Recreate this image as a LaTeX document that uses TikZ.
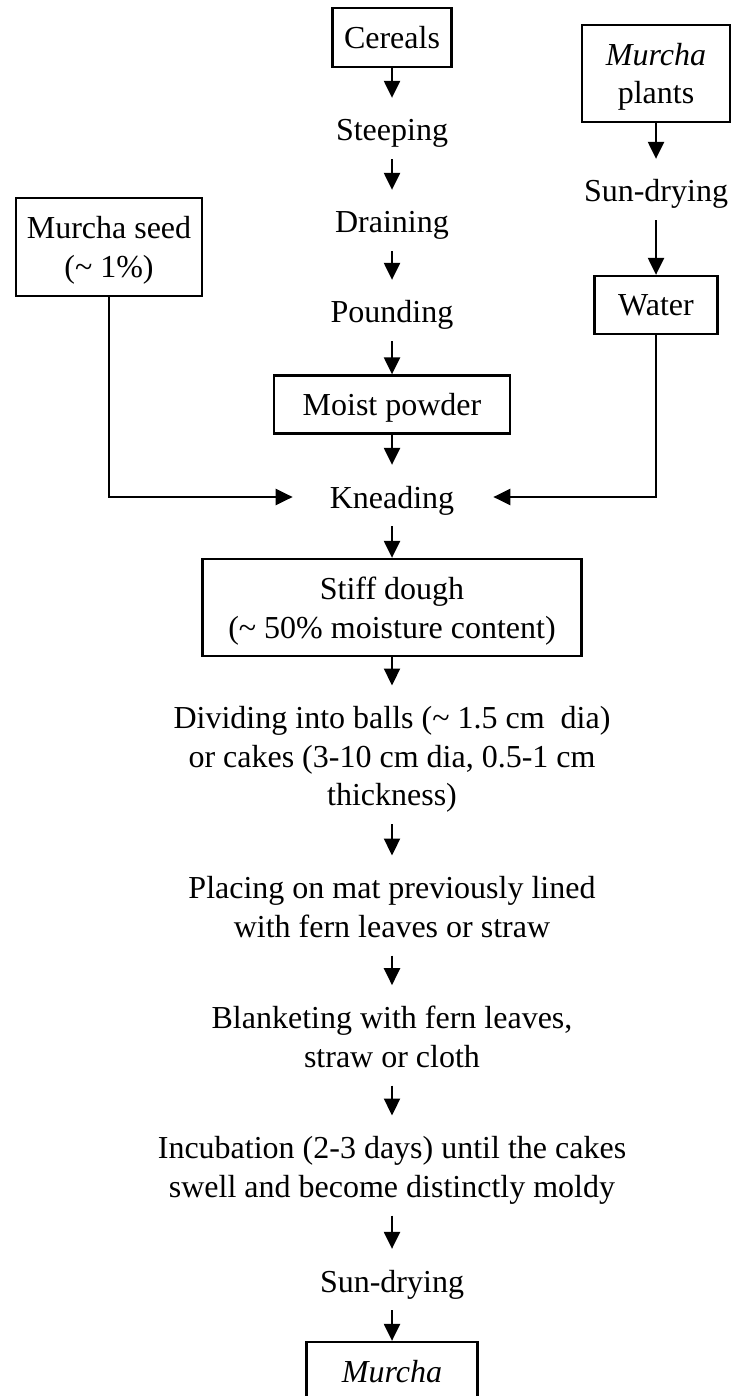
\documentclass[tikz,border=0pt]{standalone}
\usepackage{fontspec}
\setmainfont{Liberation Serif}
\usetikzlibrary{arrows.meta}
\begin{document}
\begin{tikzpicture}[x=1pt, y=-1pt, line width=2.3pt, >={Triangle[length=17pt,width=16pt]},
  every node/.style={font=\fontsize{32pt}{38.5pt}\selectfont, inner sep=0pt},
  box/.style={draw, align=center, text depth=0pt},
  lbl/.style={text height=22pt, text depth=0pt},
  para/.style={align=center, anchor=south, text depth=0pt},
  fromlbl/.style={shorten <=17pt},
  tolbl/.style={shorten >=20pt}]
  \useasboundingbox (0,0) rectangle (731,1396);
  \node[box, minimum width=119pt, minimum height=59pt] (cereals) at (392,37.5) {Cereals};
  \node[lbl] (steeping) at (392,130) {Steeping};
  \node[lbl] (draining) at (392,222) {Draining};
  \node[lbl] (pounding) at (392,312) {Pounding};
  \node[box, minimum width=236pt, minimum height=58pt] (powder) at (392,404.5) {Moist powder};
  \node[lbl] (kneading) at (392,497) {Kneading};
  \node[box, minimum width=379pt, minimum height=97pt] (dough) at (392,607.5) {Stiff dough\\(\textasciitilde{} 50\% moisture content)};
  \node[para] (dividing) at (392,807) {Dividing into balls (\textasciitilde{} 1.5 cm\ \ dia)\\or cakes (3-10 cm dia, 0.5-1 cm\\thickness)};
  \node[para] (placing) at (392,938.5) {Placing on mat previously lined\\with fern leaves or straw};
  \node[para] (blanketing) at (392,1068.5) {Blanketing with fern leaves,\\straw or cloth};
  \node[para] (incubation) at (392,1198.5) {Incubation (2-3 days) until the cakes\\swell and become distinctly moldy};
  \node[lbl] (drying) at (392,1281) {Sun-drying};
  \node[box, minimum width=171pt, minimum height=59pt] (murcha) at (392,1371.5) {\textit{Murcha}};

  \node[box, minimum width=186pt, minimum height=98pt] (seed) at (109,247) {Murcha seed\\(\textasciitilde{} 1\%)};
  \node[box, minimum width=148pt, minimum height=97pt] (plants) at (656,73.5) {\textit{Murcha}\\plants};
  \node[lbl] (plantdrying) at (656,191) {Sun-drying};
  \node[box, minimum width=123pt, minimum height=58pt] (water) at (656,305) {Water};

  \draw[->, tolbl] (cereals) -- (steeping);
  \draw[->, fromlbl, tolbl] (steeping) -- (draining);
  \draw[->, fromlbl, tolbl] (draining) -- (pounding);
  \draw[->, fromlbl] (pounding) -- (powder);
  \draw[->, tolbl] (powder) -- (kneading);
  \draw[->, fromlbl] (kneading) -- (dough);
  \draw[->, tolbl] (dough) -- (dividing);
  \draw[->, fromlbl, tolbl] (dividing) -- (placing);
  \draw[->, fromlbl, tolbl] (placing) -- (blanketing);
  \draw[->, fromlbl, tolbl] (blanketing) -- (incubation);
  \draw[->, fromlbl, tolbl] (incubation) -- (drying);
  \draw[->, fromlbl] (drying) -- (murcha);

  \draw[->, tolbl] (plants) -- (plantdrying);
  \draw[->, fromlbl] (plantdrying) -- (water);
  \draw[->, shorten >=36pt] (seed) |- (kneading);
  \draw[->, shorten >=38pt] (water) |- (kneading);
\end{tikzpicture}
\end{document}
